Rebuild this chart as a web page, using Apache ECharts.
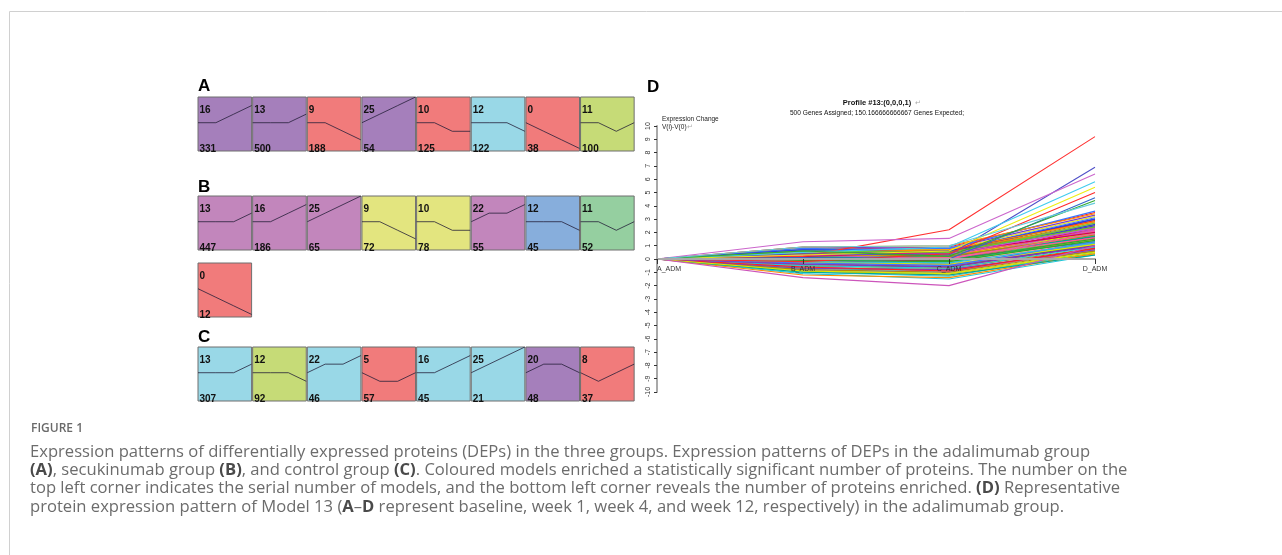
<!DOCTYPE html>
<html><head><meta charset="utf-8">
<script src="https://cdn.jsdelivr.net/npm/echarts@6/dist/echarts.min.js"></script>
<style>html,body{margin:0;padding:0;background:#fff;}#c{width:1282px;height:555px;}</style>
</head><body><div id="c"></div>
<script>
// ---------------- DATA ----------------
// STEM model profiles (model id -> expression shape over 4 time points)
const profileIds = [0, 5, 8, 9, 10, 11, 12, 13, 16, 20, 22, 25];
const profileShapes = [
  [0,-1,-2,-3],[0,-1,-1,0],[0,-1,0,1],[0,0,-1,-2],[0,0,-1,-1],[0,0,-1,0],
  [0,0,0,-1],[0,0,0,1],[0,0,1,2],[0,1,1,0],[0,1,1,2],[0,1,2,3]
];
// Panel A (adalimumab), B (secukinumab), C (control)
const modelsA = [16, 13, 9, 25, 10, 12, 0, 11];
const countsA = [331, 500, 188, 54, 125, 122, 38, 100];
const modelsB = [13, 16, 25, 9, 10, 22, 12, 11, 0];
const countsB = [447, 186, 65, 72, 78, 55, 45, 52, 12];
const modelsC = [13, 12, 22, 5, 16, 25, 20, 8];
const countsC = [307, 92, 46, 57, 45, 21, 48, 37];

// Panel D: profile #13 genes, V(i)-V(0); baseline A_ADM is 0 by definition
const timePoints = ['A_ADM', 'B_ADM', 'C_ADM', 'D_ADM'];
const expB = [0.2, 0.4, 1.3, 0.5, 0.3, -0.2, 0.1, 0.6, -1.4, 0.9,
  0.3,-0.2,0.5,-0.6,0.1,0.8,-0.9,0.2,-0.4,0.6,
  -0.1,0.4,-0.7,0.0,0.7,-0.3,0.3,-1.0,0.5,-0.5,
  0.1,0.9,-0.2,0.4,-0.8,0.2,-0.6,0.6,0.0,-0.3,
  0.7,-1.1,0.3,-0.4,0.5,-0.1,0.2,-0.7,0.8,-0.2,
  0.1,-0.5,0.4,-0.9,0.6,0.0,-0.3,0.3,-1.2,0.5,
  -0.6,0.2,0.7,-0.4,0.1,-0.8,0.4,-0.1,0.6,-0.5,
  0.3,-0.2,0.9,-0.7,0.0,0.5,-0.3,0.2,-1.0,0.4,
  -0.6,0.1,0.7,-0.2,0.3,-0.9,0.5,-0.4,0.0,0.6];
const expC = [2.2, 0.3, 1.55, 0.9, 0.6, 0.4, 0.0, 0.2, -2.0, 1.0,
  0.2,-0.4,0.6,-0.8,0.0,0.7,-1.2,0.3,-0.6,0.5,
  -0.2,0.1,-0.9,0.4,0.9,-0.5,0.2,-1.3,0.3,-0.7,
  -0.1,0.8,-0.3,0.6,-1.0,0.0,-0.5,0.4,0.2,-0.6,
  0.5,-1.5,0.1,-0.2,0.7,-0.4,0.3,-0.8,0.6,-0.1,
  0.0,-0.7,0.5,-1.1,0.3,-0.3,-0.5,0.2,-1.4,0.4,
  -0.9,0.1,0.8,-0.6,0.2,-1.0,0.6,-0.2,0.4,-0.7,
  0.0,-0.4,1.0,-0.8,0.1,0.3,-0.5,0.5,-1.2,0.2,
  -0.9,-0.1,0.6,-0.3,0.4,-1.1,0.7,-0.6,0.0,0.5];
const expD = [9.2, 6.9, 6.4, 5.8, 5.4, 5.0, 4.6, 4.4, 1.0, 4.2,
  1.8,0.9,2.6,0.6,1.4,3.2,0.4,2.1,1.1,2.9,
  1.6,2.3,0.7,1.9,3.5,1.2,2.0,0.5,2.7,1.0,
  1.5,3.3,1.3,2.4,0.8,1.7,1.0,2.8,2.2,1.1,
  3.0,0.3,1.9,1.4,2.5,0.9,2.1,0.6,3.1,1.6,
  1.3,0.8,2.4,0.5,2.6,1.8,1.2,2.0,0.4,2.3,
  0.7,1.5,3.6,1.0,1.7,0.6,2.9,1.4,2.5,0.9,
  2.2,1.1,3.4,0.7,1.6,2.7,1.3,2.0,0.3,1.8,
  0.8,1.5,3.0,1.2,2.3,0.5,2.8,1.0,1.9,2.4];

// ---------------- STYLE ----------------
const PURPLE='#A57FBB', RED='#F17B7B', CYAN='#99D8E7', LIME='#C6DB77',
      PINK='#C286BC', YEL='#E3E57F', BLUE='#87AEDC', GREEN='#95CFA0';
const tileColorsA = [PURPLE,PURPLE,RED,PURPLE,RED,CYAN,RED,LIME];
const tileColorsB = [PINK,PINK,PINK,YEL,YEL,PINK,BLUE,GREEN,RED];
const tileColorsC = [CYAN,LIME,CYAN,RED,CYAN,CYAN,PURPLE,RED];
const linePalette = ['#FF2020','#2EA82E','#2F3FD8','#25C8DD','#CC55CC','#E6E600',
  '#FF8C00','#7A3FC8','#FF5C9A','#66CC33','#3A78FF','#D0005A','#00A890','#B8860B'];
const outlierColors = ['#FF3030','#5050C8','#CC66CC','#40CCEE','#EEEE10','#FF2A2A',
  '#3366CC','#33AA33','#CC55BB','#66CCDD'];

const TX0 = 198, TSTEP = 54.65, TW = 53.6, TH = 54;
const tileFont = 'bold 10px Arial, "Liberation Sans", sans-serif';

const grids = [], xAxes = [], yAxes = [], series = [], graphics = [];

function shapeOf(id){ return profileShapes[profileIds.indexOf(id)]; }

function addTile(x, y, color, model, count){
  const gi = grids.length;
  grids.push({left:x, top:y, width:TW, height:TH, show:true,
    backgroundColor:color, borderColor:'#6f6f6f', borderWidth:1});
  xAxes.push({gridIndex:gi, type:'category', data:timePoints, boundaryGap:false, show:false});
  yAxes.push({gridIndex:gi, type:'value', min:-3.3, max:3, show:false});
  series.push({type:'line', xAxisIndex:gi, yAxisIndex:gi, data:shapeOf(model),
    symbol:'none', silent:true, clip:true, animation:false,
    lineStyle:{color:'rgba(35,30,55,0.78)', width:1}});
  graphics.push({type:'text', left:x+1.5, top:y+8, z:100, silent:true,
    style:{text:String(model), font:tileFont, fill:'#111'}});
  graphics.push({type:'text', left:x+1.5, top:y+TH-7, z:100, silent:true,
    style:{text:String(count), font:tileFont, fill:'#111'}});
}
modelsA.forEach((m,i)=>addTile(TX0+i*TSTEP, 97, tileColorsA[i], m, countsA[i]));
modelsB.forEach((m,i)=>{
  if(i<8) addTile(TX0+i*TSTEP, 196, tileColorsB[i], m, countsB[i]);
  else addTile(TX0, 263, tileColorsB[i], m, countsB[i]);
});
modelsC.forEach((m,i)=>addTile(TX0+i*TSTEP, 347, tileColorsC[i], m, countsC[i]));

// Panel D grid
const gD = grids.length;
grids.push({left:657, top:126, width:438, height:266});
const axFont = {fontFamily:'Arial, "Liberation Sans", sans-serif', fontSize:7, color:'#333'};
xAxes.push({gridIndex:gD, type:'category', data:timePoints, boundaryGap:false,
  position:'bottom', offset:-133, z:20,
  axisLine:{onZero:false, lineStyle:{color:'#a9a9a9', width:2}},
  axisTick:{show:true, length:5, lineStyle:{color:'#333', width:1}},
  axisLabel:Object.assign({margin:7, alignMinLabel:'left', showMinLabel:true, showMaxLabel:true, hideOverlap:false}, axFont),
  splitLine:{show:false}});
yAxes.push({gridIndex:gD, type:'value', min:-10, max:10, interval:1, z:20,
  axisLine:{show:true, onZero:false, lineStyle:{color:'#a9a9a9', width:2}},
  axisTick:{show:true, length:3, lineStyle:{color:'#333', width:1}},
  axisLabel:Object.assign({rotate:90, margin:5}, axFont),
  splitLine:{show:false}});

const nOut = 10;
// bulk first, outliers last (on top)
const order = [];
for(let i=nOut;i<expB.length;i++) order.push(i);
for(let i=0;i<nOut;i++) order.push(i);
order.forEach((i,k)=>{
  const col = i<nOut ? outlierColors[i] : linePalette[(i-nOut)%linePalette.length];
  series.push({type:'line', xAxisIndex:gD, yAxisIndex:gD, symbol:'none', silent:true,
    animation:false, z:2, data:[0, expB[i], expC[i], expD[i]],
    lineStyle:{color:col, width:1.1}});
});

// Panel labels
const panelFont = 'bold 17px Arial, "Liberation Sans", sans-serif';
[['A',198,86],['B',198,187],['C',198,337],['D',647,87]].forEach(p=>{
  graphics.push({type:'text', left:p[1], top:p[2]-8, z:100, silent:true,
    style:{text:p[0], font:panelFont, fill:'#000'}});
});
// Panel D texts
graphics.push({type:'text', x:877, y:103, z:100, silent:true,
  style:{text:'Profile #13:(0,0,0,1)', font:'bold 7.5px Arial, sans-serif', fill:'#111', align:'center', verticalAlign:'middle'}});
graphics.push({type:'text', x:915, y:103, z:100, silent:true,
  style:{text:'↵', font:'7px Arial, sans-serif', fill:'#aaa', align:'left', verticalAlign:'middle'}});
graphics.push({type:'text', x:877, y:113, z:100, silent:true,
  style:{text:'500 Genes Assigned; 150.166666666667 Genes Expected;', font:'6.6px Arial, sans-serif', fill:'#111', align:'center', verticalAlign:'middle'}});
graphics.push({type:'text', x:662, y:119, z:100, silent:true,
  style:{text:'Expression Change', font:'6.5px Arial, sans-serif', fill:'#222', align:'left', verticalAlign:'middle'}});
graphics.push({type:'text', x:662, y:127, z:100, silent:true,
  style:{text:'V(i)-V(0){g|↵}', font:'6.5px Arial, sans-serif', fill:'#222', align:'left', verticalAlign:'middle',
    rich:{g:{fill:'#aaa', font:'6.5px Arial, sans-serif'}}}});

// Frame
graphics.push({type:'rect', z:0, silent:true, shape:{x:9.5, y:11.5, width:1400, height:700},
  style:{fill:'none', stroke:'#d0d0d0', lineWidth:1}});

// Caption
const capFont = '"Open Sans", "Noto Sans", sans-serif';
graphics.push({type:'text', x:31, y:429, z:100, silent:true,
  style:{text:'FIGURE 1', fontFamily:capFont, fontSize:12, fontWeight:600, fill:'#6a6a6a', verticalAlign:'middle'}});
const capLines = [
  'Expression patterns of differentially expressed proteins (DEPs) in the three groups. Expression patterns of DEPs in the adalimumab group',
  '{b|(A)}, secukinumab group {b|(B)}, and control group {b|(C)}. Coloured models enriched a statistically significant number of proteins. The number on the',
  'top left corner indicates the serial number of models, and the bottom left corner reveals the number of proteins enriched. {b|(D)} Representative',
  'protein expression pattern of Model 13 ({b|A}–{b|D} represent baseline, week 1, week 4, and week 12, respectively) in the adalimumab group.'
];
capLines.forEach((t,i)=>{
  graphics.push({type:'text', x:30, y:452+i*18.3, z:100, silent:true,
    style:{text:t, fontFamily:capFont, fontSize:16.6, fontWeight:400, fill:'#6c6c6c', verticalAlign:'middle',
      rich:{b:{fontFamily:capFont, fontSize:16.6, fontWeight:700, fill:'#4a4a4a'}}}});
});

const chart = echarts.init(document.getElementById('c'), null, {renderer:'canvas'});
chart.setOption({
  animation:false,
  grid:grids, xAxis:xAxes, yAxis:yAxes, series:series, graphic:graphics
});
</script></body></html>
